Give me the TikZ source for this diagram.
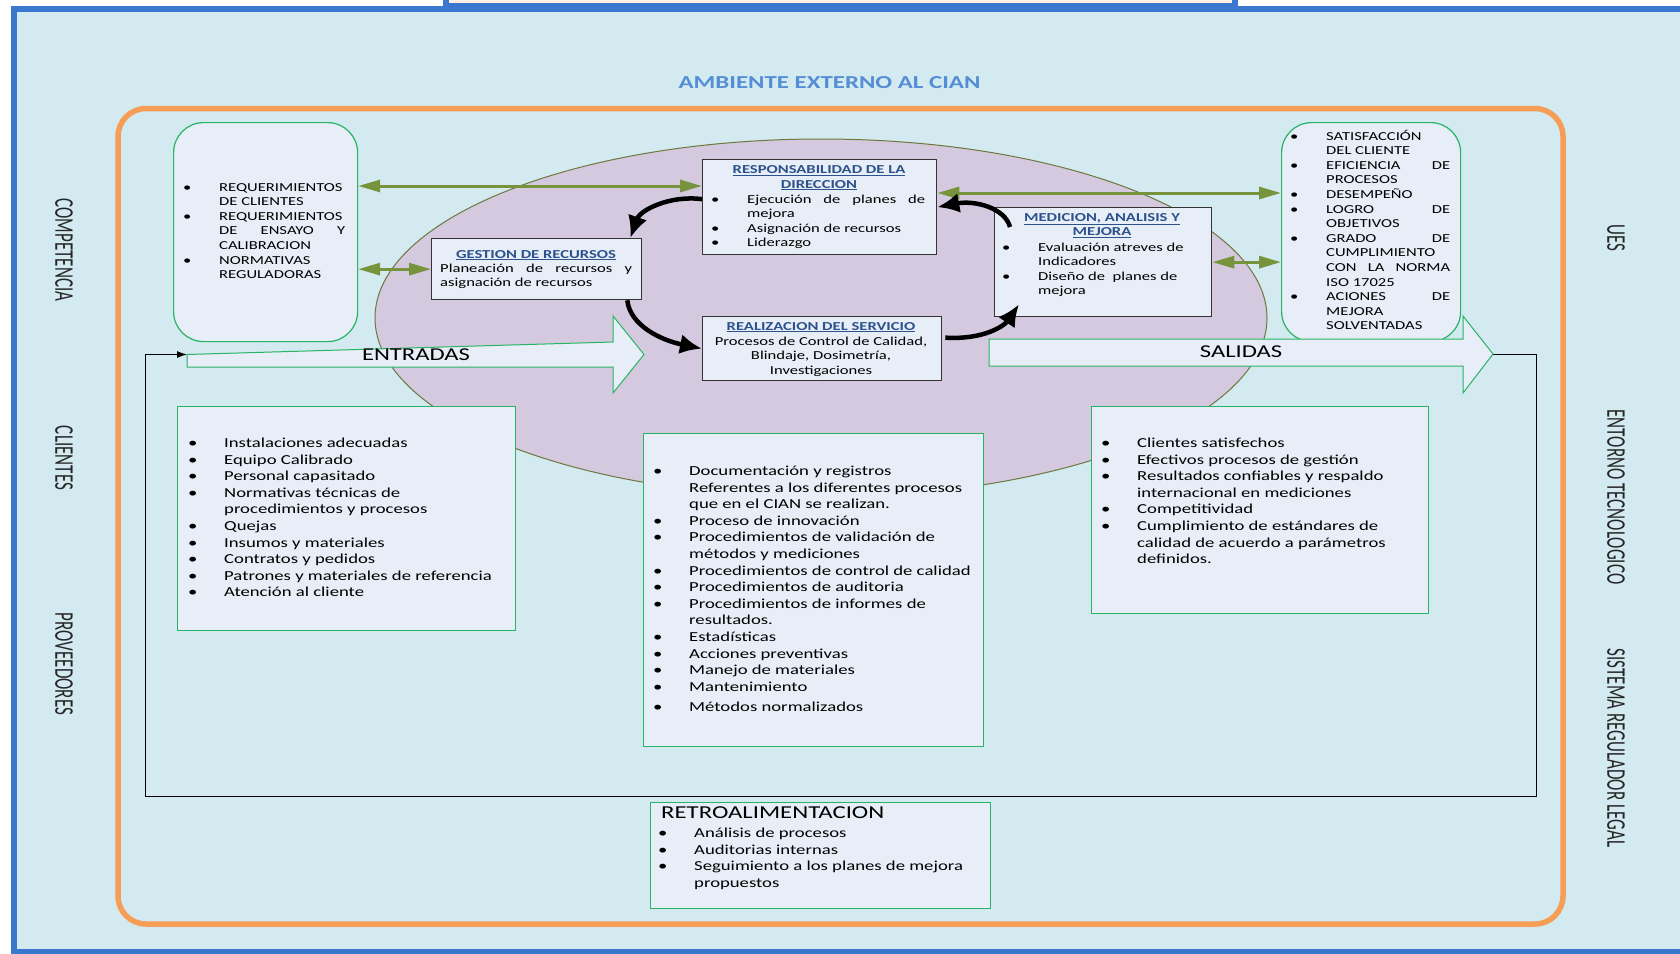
\documentclass[tikz,border=0pt]{standalone}
\usepackage{fontspec}
\setmainfont{Carlito}[FakeStretch=1.36]
\newfontfamily\sidefont{Carlito}[FakeStretch=0.63]
\usetikzlibrary{calc}
\usetikzlibrary{arrows.meta}

\definecolor{fondo}{RGB}{210,234,240}
\definecolor{marco}{RGB}{58,120,208}
\definecolor{durazno}{RGB}{253,239,227}
\definecolor{naranja}{RGB}{246,158,86}
\definecolor{lila}{RGB}{212,201,223}
\definecolor{lilaborde}{RGB}{110,120,60}
\definecolor{olivo}{RGB}{119,147,60}
\definecolor{verde}{RGB}{40,180,100}
\definecolor{cajita}{RGB}{231,238,247}
\definecolor{azultit}{RGB}{44,82,140}
\definecolor{azulamb}{RGB}{85,142,213}

\newcommand{\bul}{\makebox[36pt][l]{\textbullet}}
\newcommand{\sang}{\hspace*{36pt}}
\newcommand{\just}[2]{\makebox[#1][s]{#2}}

\tikzset{
  proceso/.style={draw=black!80, line width=1.3pt, fill=cajita, inner sep=0pt, anchor=north west},
  redonda/.style={draw=verde, line width=1.2pt, fill=cajita, rounded corners=30pt, inner sep=0pt, anchor=north west},
  lista/.style={draw=verde, line width=1.2pt, fill=cajita, inner sep=0pt, anchor=north west},
  flechagrande/.style={draw=verde, line width=1pt, fill=cajita},
  txtup/.style={anchor=base west, inner sep=0pt, align=left, font=\fontsize{12.2}{14.6}\selectfont},
  txtlow/.style={anchor=base west, inner sep=0pt, align=left, font=\fontsize{13.75}{16.6}\selectfont},
  titulo/.style={anchor=base, inner sep=0pt, align=center, text=azultit, font=\bfseries\fontsize{12.2}{14.6}\selectfont},
  lado/.style={rotate=-90, inner sep=0pt, text=black!85, font=\sidefont\fontsize{27}{27}\selectfont},
  doble/.style={{Triangle[length=22pt,width=12pt]}-{Triangle[length=22pt,width=12pt]}, olivo, line width=3pt},
  curva/.style={-{Latex[length=22pt,width=20pt]}, line width=4.5pt},
}

\begin{document}
\begin{tikzpicture}[x=1pt,y=-1pt]
	\useasboundingbox (0,0) rectangle (1680,953);
	\fill[white] (0,0) rectangle (1680,953);
	% marco exterior
	\fill[fondo] (14,8.5) rectangle (1690,952);
	\draw[marco, line width=6pt] (1690,8.5) -- (14,8.5) -- (14,952) -- (1690,952);
	\draw[marco, line width=6pt, fill=durazno] (446,-10) rectangle (1235,6);
	\node[anchor=base, inner sep=0pt, text=azulamb, font=\bfseries\fontsize{18.3}{20}\selectfont] (ambiente) at (829.5,88) {AMBIENTE EXTERNO AL CIAN};
	% marco naranja y elipse
	\draw[naranja, line width=5.5pt, rounded corners=28pt] (118,108.5) rectangle (1563,924);
	\draw[lilaborde, line width=1pt, fill=lila] (821,318) ellipse (446 and 179);
	% lazo de retroalimentacion
	\coordinate (enttail) at (187,354.5);
	\coordinate (saltip) at (1493,354);
	\draw[-{Latex[length=10pt,width=7pt]}, line width=1pt] (saltip) -- (1536,354) -- (1536,796) -- (145,796) -- (145,354.5) -- (enttail);
	% cajas superiores
	\node[redonda, minimum width=184pt, minimum height=219pt] (reqbox) at (173,122) {};
	\node[redonda, minimum width=179pt, minimum height=219pt] (logbox) at (1281,122) {};
	% flechas de entradas y salidas
	\draw[flechagrande] (enttail) -- (613,342) -- (613,316) -- (644,354.5) -- (613,393) -- (613,367) -- (187,367) -- cycle;
	\draw[flechagrande] (989,339) -- (1463,339) -- (1463,316) -- (saltip) -- (1463,393) -- (1463,366) -- (989,366) -- cycle;
	\node[inner sep=0pt, font=\fontsize{18.1}{20}\selectfont] (entradas) at (416,354.5) {ENTRADAS};
	\node[inner sep=0pt, font=\fontsize{18.1}{20}\selectfont] (salidas) at (1241,352) {SALIDAS};
	% procesos
	\node[proceso, minimum width=210pt, minimum height=61pt] (gest) at (431,238) {};
	\node[proceso, minimum width=234pt, minimum height=95pt] (resp) at (702,159) {};
	\node[proceso, minimum width=217pt, minimum height=109pt] (med) at (994,207) {};
	\node[proceso, minimum width=239pt, minimum height=64pt] (real) at (702,316) {};
	% cajas inferiores
	\node[lista, minimum width=338pt, minimum height=224pt] (entbox) at (177,406) {};
	\node[lista, minimum width=340pt, minimum height=313pt] (midbox) at (643,433) {};
	\node[lista, minimum width=337pt, minimum height=207pt] (salbox) at (1091,406) {};
	\node[lista, minimum width=340pt, minimum height=106pt] (retbox) at (650,802) {};
	% flechas verdes
	\draw[doble] ($(reqbox.north east)+(0,64)$) -- ($(resp.north west)+(0,27)$);
	\draw[doble] (reqbox.east |- gest.west) -- (gest.west);
	\coordinate (respder) at ($(resp.north east)+(0,34)$);
	\draw[doble] (respder) -- (respder -| logbox.west);
	\draw[doble] (med.east) -- (med.east -| logbox.west);
	% ciclo
	\draw[curva] ($(resp.west)+(0,-8)$) .. controls (670,195) and (640,210) .. ($(gest.north east)+(-12,0)$);
	\draw[curva] ($(gest.south east)+(-15,0)$) .. controls (630,325) and (660,340) .. (real.west);
	\draw[curva] ($(real.east)+(3,-11)$) .. controls (985,340) and (1005,325) .. ($(med.south west)+(25,-13)$);
	\draw[curva] ($(med.north west)+(16,20)$) .. controls (1005,208) and (975,200) .. (resp.east);
	% textos de cajas superiores (anclados en la ultima linea)
	\node[txtup] (reqtxt) at (183,278.6) {\bul REQUERIMIENTOS\\
		\sang DE CLIENTES\\
		\bul REQUERIMIENTOS\\
		\sang \just{126pt}{DE ENSAYO Y}\\
		\sang CALIBRACION\\
		\bul NORMATIVAS\\
		\sang REGULADORAS};
	\node[txtup] (logtxt) at (1290,329.8) {\bul SATISFACCIÓN\\
		\sang DEL CLIENTE\\
		\bul \just{124pt}{EFICIENCIA DE}\\
		\sang PROCESOS\\
		\bul DESEMPEÑO\\
		\bul \just{124pt}{LOGRO DE}\\
		\sang OBJETIVOS\\
		\bul \just{124pt}{GRADO DE}\\
		\sang CUMPLIMIENTO\\
		\sang \just{124pt}{CON LA NORMA}\\
		\sang ISO 17025\\
		\bul \just{124pt}{ACIONES DE}\\
		\sang MEJORA\\
		\sang SOLVENTADAS};
	\node[titulo] (resptit) at (819,188) {\underline{RESPONSABILIDAD DE LA}\\\underline{DIRECCION}};
	\node[txtup] (resptxt) at (711,246.8) {\bul \just{178pt}{Ejecución de planes de}\\
		\sang mejora\\
		\bul Asignación de recursos\\
		\bul Liderazgo};
	\node[titulo] (medtit) at (1102,235.6) {\underline{MEDICION, ANALISIS Y}\\\underline{MEJORA}};
	\node[txtup] (medtxt) at (1002,294.8) {\bul Evaluación atreves de\\
		\sang Indicadores\\
		\bul Diseño de\ \ planes de\\
		\sang mejora};
	\node[titulo] (gesttit) at (536,258) {\underline{GESTION DE RECURSOS}};
	\node[txtup] (gesttxt) at (440,286.6) {\just{192pt}{Planeación de recursos y}\\
		asignación de recursos};
	\node[titulo] (realtit) at (821,330) {\underline{REALIZACION DEL SERVICIO}};
	\node[txtup, anchor=base, align=center] (realtxt) at (821,374.2) {Procesos de Control de Calidad,\\
		Blindaje, Dosimetría,\\
		Investigaciones};
	% textos de cajas inferiores
	\node[txtlow] (enttxt) at (188,596.8) {\bul Instalaciones adecuadas\\
		\bul Equipo Calibrado\\
		\bul Personal capasitado\\
		\bul Normativas técnicas de\\
		\sang procedimientos y procesos\\
		\bul Quejas\\
		\bul Insumos y materiales\\
		\bul Contratos y pedidos\\
		\bul Patrones y materiales de referencia\\
		\bul Atención al cliente};
	\node[txtlow] (midtxt) at (653,711.8) {\bul Documentación y registros\\
		\sang Referentes a los diferentes procesos\\
		\sang que en el CIAN se realizan.\\
		\bul Proceso de innovación\\
		\bul Procedimientos de validación de\\
		\sang métodos y mediciones\\
		\bul Procedimientos de control de calidad\\
		\bul Procedimientos de auditoria\\
		\bul Procedimientos de informes de\\
		\sang resultados.\\
		\bul Estadísticas\\
		\bul Acciones preventivas\\
		\bul Manejo de materiales\\
		\bul Mantenimiento\\[4pt]
		\bul Métodos normalizados};
	\node[txtlow] (saltxt) at (1101,563.6) {\bul Clientes satisfechos\\
		\bul Efectivos procesos de gestión\\
		\bul Resultados confiables y respaldo\\
		\sang internacional en mediciones\\
		\bul Competitividad\\
		\bul Cumplimiento de estándares de\\
		\sang calidad de acuerdo a parámetros\\
		\sang definidos.};
	\node[anchor=base west, inner sep=0pt, font=\fontsize{18.2}{20}\selectfont] (rettit) at (661,818.8) {RETROALIMENTACION};
	\node[txtlow] (rettxt) at (658,887.2) {\bul Análisis de procesos\\
		\bul Auditorias internas\\
		\bul Seguimiento a los planes de mejora\\
		\sang propuestos};
	% textos laterales
	\node[lado] (competencia) at (64,250) {COMPETENCIA};
	\node[lado] (clientes) at (64,458) {CLIENTES};
	\node[lado] (proveedores) at (64,664) {PROVEEDORES};
	\node[lado] (ues) at (1616,238) {UES};
	\node[lado] (entorno) at (1616,497) {ENTORNO TECNOLOGICO};
	\node[lado] (sistema) at (1616,748) {SISTEMA REGULADOR LEGAL};
\end{tikzpicture}
\end{document}
